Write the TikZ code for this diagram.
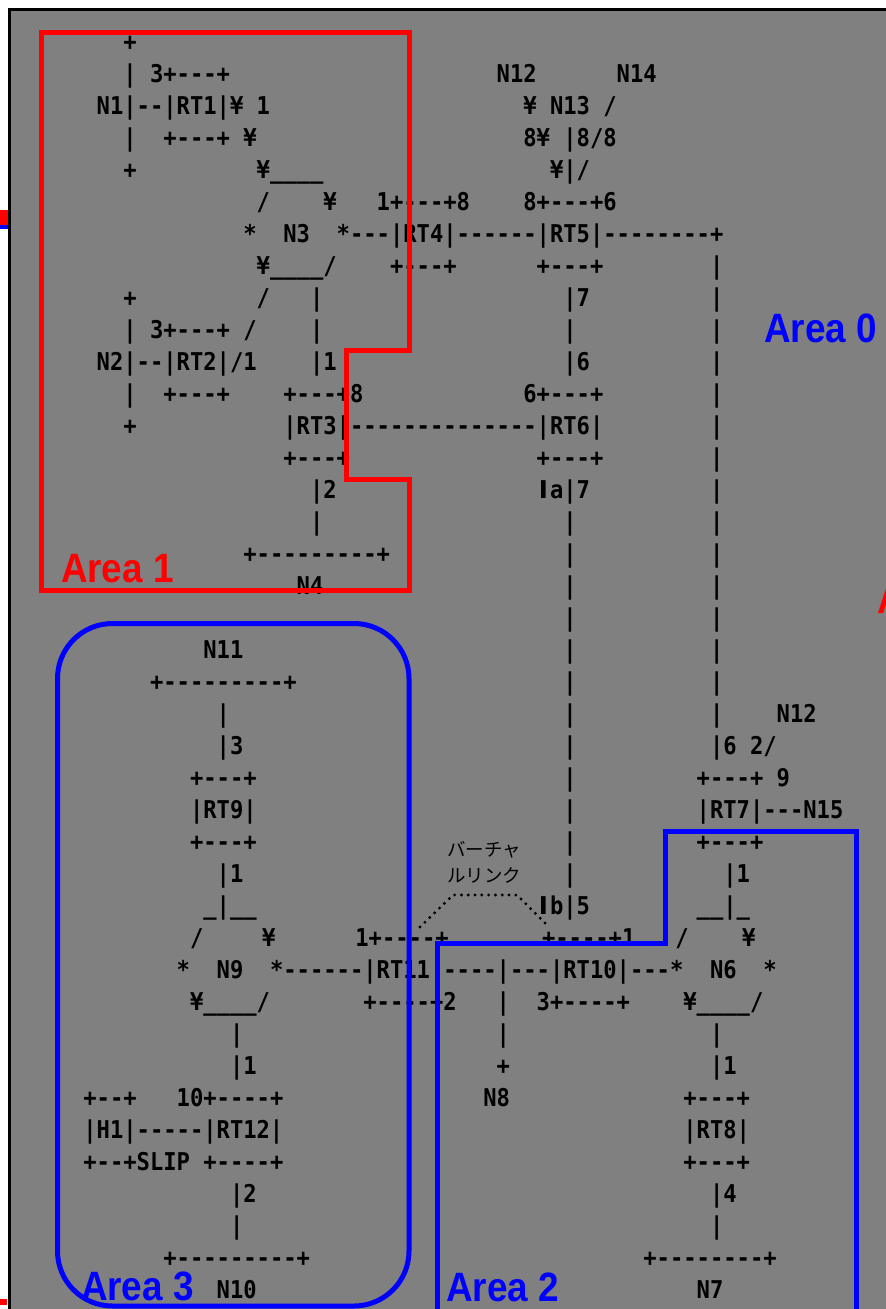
\documentclass[tikz,border=0pt]{standalone}
\usepackage{fontspec}
\newfontfamily\ascfont[FakeStretch=0.904]{DejaVu Sans Mono}
\newfontfamily\ascsans{DejaVu Sans}
\newfontfamily\areafont[FakeStretch=0.9]{Liberation Sans}
\newfontfamily\jpfont{Noto Sans CJK JP}
\definecolor{bggray}{HTML}{808080}
\definecolor{areared}{HTML}{FF0000}
\definecolor{areablue}{HTML}{0000FF}
\tikzset{
  asc/.style={font=\fontsize{24.5}{25}\ascfont\bfseries, anchor=base west, inner sep=0pt, outer sep=0pt, text=black},
  ascI/.style={font=\fontsize{24.5}{25}\ascsans\bfseries, anchor=base, inner sep=0pt, outer sep=0pt, text=black},
  arealabel/.style={font=\fontsize{41}{42}\areafont\bfseries, anchor=base west, inner sep=0pt, outer sep=0pt},
  redarea/.style={draw=areared, line width=5pt},
  bluearea/.style={draw=areablue, line width=5pt},
  vlink/.style={draw=black, line width=3.2pt, dash pattern=on 0pt off 6.8pt, line cap=round},
  jp/.style={font=\fontsize{18.5}{20}\jpfont, anchor=west, inner sep=0pt, outer sep=0pt, text=black},
}
% #1 name, #2 column, #3 row, #4 text
\newcommand\tx[4]{\node[asc] (#1) at ({123.3333+13.3333*((#2)-10)},{50+32*((#3)-1)}) {#4};}
\newcommand\tI[3]{\node[ascI] (#1) at ({130+13.3333*((#2)-10)},{50+32*((#3)-1)}) {I};}
\begin{document}
\begin{tikzpicture}[x=1pt,y=-1pt]
\useasboundingbox (0,0) rectangle (886,1309);
\clip (0,0) rectangle (886,1309);
\fill[white] (0,0) rectangle (886,1309);
\fill[bggray] (9.5,9.5) rectangle (900,1320);
\draw[black, line width=2.5pt] (9.5,1320) -- (9.5,9.5) -- (900,9.5);
% stray marks at the left edge
\fill[areared] (0,210) rectangle (8,225);
\fill[areablue] (0,225) rectangle (8,229);
\fill[areared] (0,1299) rectangle (7,1305);

% row 1
\tx{a1}{10}{1}{+}
% row 2
\tx{b1}{10}{2}{|}
\tx{b2}{12}{2}{3+---+}
\tx{b3}{38}{2}{N12}
\tx{b4}{47}{2}{N14}
% row 3
\tx{c1}{8}{3}{N1|--|RT1|¥}
\tx{c2}{20}{3}{1}
\tx{c3}{40}{3}{¥}
\tx{c4}{42}{3}{N13}
\tx{c5}{46}{3}{/}
% row 4
\tx{d1}{10}{4}{|}
\tx{d2}{13}{4}{+---+}
\tx{d3}{19}{4}{¥}
\tx{d4}{40}{4}{8¥}
\tx{d5}{43}{4}{|8/8}
% row 5
\tx{e1}{10}{5}{+}
\tx{e2}{20}{5}{¥\_\_\_\_}
\tx{e3}{42}{5}{¥|/}
% row 6
\tx{f1}{20}{6}{/}
\tx{f2}{25}{6}{¥}
\tx{f3}{29}{6}{1+---+8}
\tx{f4}{40}{6}{8+---+6}
% row 7
\tx{g1}{19}{7}{*}
\tx{g2}{22}{7}{N3}
\tx{g3}{26}{7}{*---|RT4|------|RT5|--------+}
% row 8
\tx{h1}{20}{8}{¥\_\_\_\_/}
\tx{h2}{30}{8}{+---+}
\tx{h3}{41}{8}{+---+}
\tx{h4}{54}{8}{|}
% row 9
\tx{i1}{10}{9}{+}
\tx{i2}{20}{9}{/}
\tx{i3}{24}{9}{|}
\tx{i4}{43}{9}{|7}
\tx{i5}{54}{9}{|}
% row 10
\tx{j1}{10}{10}{|}
\tx{j2}{12}{10}{3+---+}
\tx{j3}{19}{10}{/}
\tx{j4}{24}{10}{|}
\tx{j5}{43}{10}{|}
\tx{j6}{54}{10}{|}
% row 11
\tx{k1}{8}{11}{N2|--|RT2|/1}
\tx{k2}{24}{11}{|1}
\tx{k3}{43}{11}{|6}
\tx{k4}{54}{11}{|}
% row 12
\tx{l1}{10}{12}{|}
\tx{l2}{13}{12}{+---+}
\tx{l3}{22}{12}{+---+8}
\tx{l4}{40}{12}{6+---+}
\tx{l5}{54}{12}{|}
% row 13
\tx{m1}{10}{13}{+}
\tx{m2}{22}{13}{|RT3|--------------|RT6|}
\tx{m3}{54}{13}{|}
% row 14
\tx{n1}{22}{14}{+---+}
\tx{n2}{41}{14}{+---+}
\tx{n3}{54}{14}{|}
% row 15
\tx{o1}{24}{15}{|2}
\tI{o2}{41}{15}
\tx{o3}{42}{15}{a|7}
\tx{o4}{54}{15}{|}
% row 16
\tx{p1}{24}{16}{|}
\tx{p2}{43}{16}{|}
\tx{p3}{54}{16}{|}
% row 17
\tx{q1}{19}{17}{+---------+}
\tx{q2}{43}{17}{|}
\tx{q3}{54}{17}{|}
% row 18
\tx{r1}{23}{18}{N4}
\tx{r2}{43}{18}{|}
\tx{r3}{54}{18}{|}
% row 19
\tx{s1}{43}{19}{|}
\tx{s2}{54}{19}{|}
% row 20
\tx{t1}{16}{20}{N11}
\tx{t2}{43}{20}{|}
\tx{t3}{54}{20}{|}
% row 21
\tx{u1}{12}{21}{+---------+}
\tx{u2}{43}{21}{|}
\tx{u3}{54}{21}{|}
% row 22
\tx{v1}{17}{22}{|}
\tx{v2}{43}{22}{|}
\tx{v3}{54}{22}{|}
\tx{v4}{59}{22}{N12}
% row 23
\tx{w1}{17}{23}{|3}
\tx{w2}{43}{23}{|}
\tx{w3}{54}{23}{|6}
\tx{w4}{57}{23}{2/}
% row 24
\tx{x1}{15}{24}{+---+}
\tx{x2}{43}{24}{|}
\tx{x3}{53}{24}{+---+}
\tx{x4}{59}{24}{9}
% row 25
\tx{y1}{15}{25}{|RT9|}
\tx{y2}{43}{25}{|}
\tx{y3}{53}{25}{|RT7|---N15}
% row 26
\tx{z1}{15}{26}{+---+}
\tx{z2}{43}{26}{|}
\tx{z3}{53}{26}{+---+}
% row 27
\tx{aa1}{17}{27}{|1}
\tx{aa2}{43}{27}{|}
\tx{aa3}{55}{27}{|1}
% row 28
\tx{ab1}{16}{28}{\_|\_\_}
\tI{ab2}{41}{28}
\tx{ab3}{42}{28}{b|5}
\tx{ab4}{53}{28}{\_\_|\_}
% row 29
\tx{ac1}{15}{29}{/}
\tx{ac2}{20.4}{29}{¥}
\tx{ac3}{27.4}{29}{1+----+}
\tx{ac4}{41.4}{29}{+----+1}
\tx{ac5}{51.4}{29}{/}
\tx{ac6}{56.4}{29}{¥}
% row 30
\tx{ad1}{14}{30}{*}
\tx{ad2}{17}{30}{N9}
\tx{ad3}{21}{30}{*------|RT11|----|---|RT10|---*}
\tx{ad4}{54}{30}{N6}
\tx{ad5}{58}{30}{*}
% row 31
\tx{ae1}{15}{31}{¥\_\_\_\_/}
\tx{ae2}{28}{31}{+----+2}
\tx{ae3}{38}{31}{|}
\tx{ae4}{41}{31}{3+----+}
\tx{ae5}{52}{31}{¥\_\_\_\_/}
% row 32
\tx{af1}{18}{32}{|}
\tx{af2}{38}{32}{|}
\tx{af3}{54}{32}{|}
% row 33
\tx{ag1}{18}{33}{|1}
\tx{ag2}{38}{33}{+}
\tx{ag3}{54}{33}{|1}
% row 34
\tx{ah1}{7}{34}{+--+}
\tx{ah2}{14}{34}{10+----+}
\tx{ah3}{37}{34}{N8}
\tx{ah4}{52}{34}{+---+}
% row 35
\tx{ai1}{7}{35}{|H1|-----|RT12|}
\tx{ai2}{52}{35}{|RT8|}
% row 36
\tx{aj1}{7}{36}{+--+SLIP}
\tx{aj2}{16}{36}{+----+}
\tx{aj3}{52}{36}{+---+}
% row 37
\tx{ak1}{18}{37}{|2}
\tx{ak2}{54}{37}{|4}
% row 38
\tx{al1}{18}{38}{|}
\tx{al2}{54}{38}{|}
% row 39
\tx{am1}{13}{39}{+---------+}
\tx{am2}{49}{39}{+--------+}
% row 40
\tx{an1}{17}{40}{N10}
\tx{an2}{53}{40}{N7}

% virtual link label and dotted path
\node[jp] (vl1) at (447,850) {バーチャ};
\node[jp] (vl2) at (447,875) {ルリンク};
\coordinate (va) at (420,927);
\coordinate (vb) at (453,895);
\coordinate (vc) at (517,895);
\coordinate (vd) at (547,925);
\draw[vlink] (va) -- (vb) -- (vc) -- (vd);

% area outlines
\draw[redarea] (41,32) -- (409,32) -- (409,350.5) -- (346.5,350.5) -- (346.5,479.5)
  -- (409,479.5) -- (409,590.5) -- (41,590.5) -- cycle;
\draw[bluearea, rounded corners=55pt] (57.5,623.5) rectangle (409,1306);
\draw[bluearea] (437.5,1311) -- (437.5,943.5) -- (665.5,943.5) -- (665.5,831)
  -- (856.5,831) -- (856.5,1311) -- cycle;

% area labels
\node[arealabel, text=areablue] (area0) at (764,342) {Area 0};
\node[arealabel, text=areared] (area1) at (61,582) {Area 1};
\node[arealabel, text=areablue] (area3) at (81,1300) {Area 3};
\node[arealabel, text=areablue] (area2) at (446,1301) {Area 2};
\node[arealabel, text=areared] (area4) at (877,613) {A};
\end{tikzpicture}
\end{document}
